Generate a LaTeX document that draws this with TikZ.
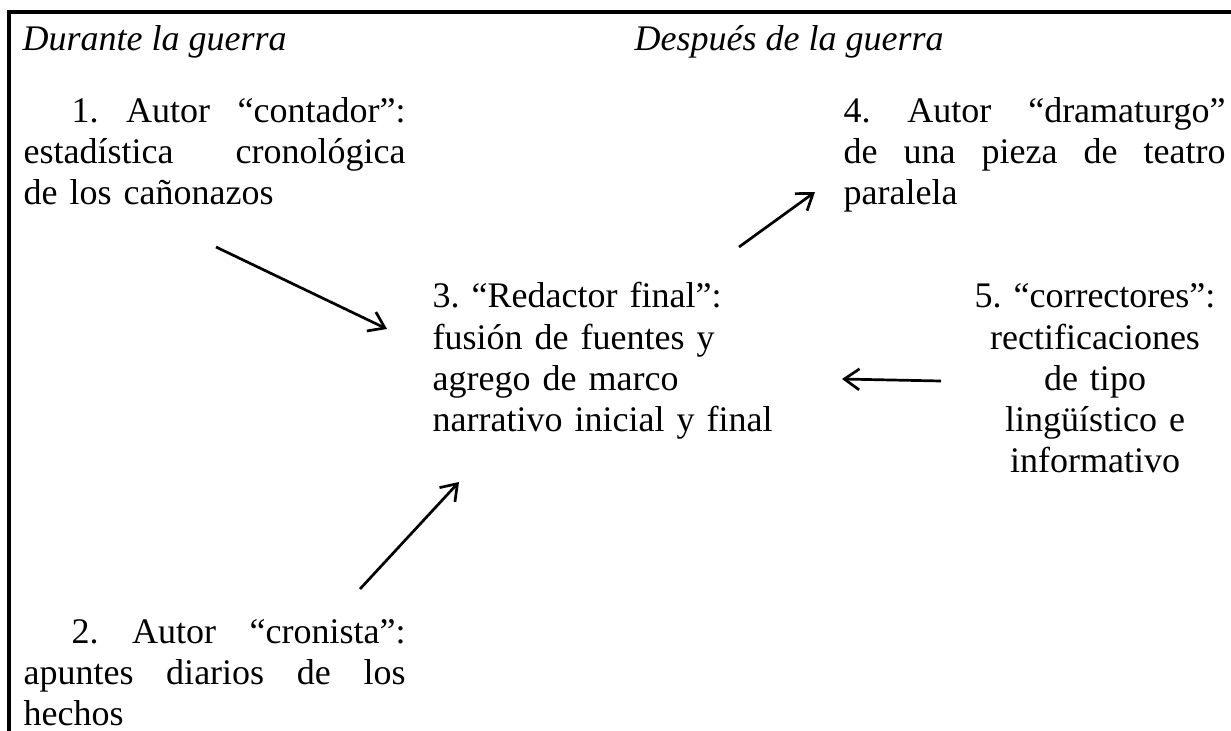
\documentclass[tikz,border=0pt]{standalone}
\usepackage{fontspec}
\setmainfont{Liberation Serif}
\usetikzlibrary{arrows.meta}
\setlength{\parindent}{0pt}
\frenchspacing

\begin{document}
\begin{tikzpicture}[x=0.3333pt,y=0.3333pt,font=\fontsize{12}{13.67}\selectfont,
  texto/.style={anchor=base west,inner sep=0pt,text width=127.3pt,align=left},
  flecha/.style={-{Straight Barb[length=5pt,width=7pt]},line width=0.9pt}]

\useasboundingbox (0,0) rectangle (1231,-731);

% borde de la celda
\draw[line width=1pt] (9,-731) -- (9,-12) -- (1231,-12);

\node[anchor=base west,inner sep=0pt] (durante) at (22,-50) {\textit{Durante la guerra}};
\node[anchor=base west,inner sep=0pt] (despues) at (634,-50) {\textit{Después de la guerra}};

\node[texto] (contador) at (23,-122) {\hspace*{16pt}1.\hfill Autor\hfill “contador”:\\
estadística\hfill cronológica\\
de los cañonazos};

\node[texto] (cronista) at (23,-643) {\hspace*{16pt}2.\hfill Autor\hfill “cronista”:\\
apuntes\hfill diarios\hfill de\hfill los\\
hechos};

\node[texto] (redactor) at (432,-308) {3. “Redactor final”:\\
fusión de fuentes y\\
agrego de marco\\
narrativo inicial y final};

\node[texto] (dramaturgo) at (843,-122) {4.\hfill Autor\hfill “dramaturgo”\\
de\hfill una\hfill pieza\hfill de\hfill teatro\\
paralela};

\node[texto,anchor=base,text width=90pt,align=center] (correctores) at (1095,-308) {5. “correctores”:\\
rectificaciones\\
de tipo\\
lingüístico e\\
informativo};

\coordinate (a1) at (216,-247);
\coordinate (b1) at (387,-329);
\coordinate (a2) at (360,-589);
\coordinate (b2) at (459,-482);
\coordinate (a4) at (739,-247);
\coordinate (b4) at (815,-192);
\coordinate (a5) at (941,-381);
\coordinate (b5) at (842,-379);

\draw[flecha] (a1) -- (b1); % fuentes
\draw[flecha] (a2) -- (b2);
\draw[flecha] (a4) -- (b4); % obra paralela
\draw[flecha] (a5) -- (b5);

\end{tikzpicture}
\end{document}
